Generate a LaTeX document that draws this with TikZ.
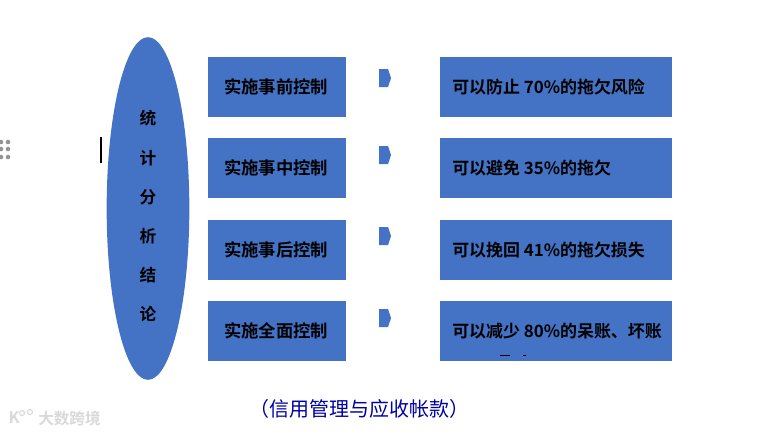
\documentclass[tikz,border=0pt]{standalone}
\usepackage{fontspec}
\usetikzlibrary{shapes.geometric}
\newfontfamily\cjk{Noto Sans CJK SC}[BoldFont={Noto Sans CJK SC Bold}]
\definecolor{fillblue}{HTML}{4472C4}
\tikzset{
 boxs/.style={fill=fillblue,draw=none,inner sep=0pt,minimum height=45pt,anchor=north west},
 leftbox/.style={boxs,minimum width=103.5pt},
 rightbox/.style={boxs,minimum width=174pt},
 boxtext/.style={font=\cjk\bfseries\fontsize{13}{15}\selectfont,text=black,inner sep=0pt,anchor=west},
 rtext/.style={boxtext,font=\cjk\bfseries\fontsize{12.7}{15}\selectfont},
 ovaltext/.style={font=\cjk\bfseries\fontsize{12.5}{15}\selectfont,text=black,inner sep=0pt},
 griddot/.style={circle,fill=gray!85,inner sep=0pt,minimum size=3.4pt},
}
\begin{document}
\begin{tikzpicture}[x=0.75pt,y=-0.75pt]
\useasboundingbox (0,0) rectangle (766,433);
\fill[white] (0,0) rectangle (766,433);
% left handle
\foreach \yy in {142,149,157}{\foreach \xx in {1,8}{\node[griddot] at (\xx,\yy) {};}}
\draw[line width=1.1pt,black] (101,137) -- (101,163);
% oval
\node[ellipse,fill=fillblue,minimum width=62pt,minimum height=257pt,inner sep=0pt] (oval) at (148,208.5) {};
\foreach \t/\yy in {统/118,计/158,分/197,析/236,结/275,论/314}{\node[ovaltext] at (148,\yy) {\t};}
% rows
\foreach \n/\yy/\l/\r/\ay in {
 a/57/实施事前控制/{可以防止 70\%的拖欠风险}/78,
 b/138/实施事中控制/{可以避免 35\%的拖欠}/155,
 c/220/实施事后控制/{可以挽回 41\%的拖欠损失}/236,
 d/301/实施全面控制/{可以减少 80\%的呆账、坏账}/318}{
  \node[leftbox] (l\n) at (208,\yy) {};
  \node[rightbox] (r\n) at (440,\yy) {};
  \node[boxtext] at (224,\yy+30) {\l};
  \node[rtext] at (452,\yy+30) {\r};
  \fill[fillblue] (379,\ay-9) -- (388,\ay-9) -- (391,\ay) -- (388,\ay+9) -- (379,\ay+9) -- cycle;
}
% clipped second line remnants
\fill[black] (500,354.5) rectangle (510,355.5);
\fill[black] (523,354.5) rectangle (526,355.5);
% caption
\node[font=\cjk\fontsize{15}{18}\selectfont,text=blue!65!black,inner sep=0pt] (cap) at (359,409) {（信用管理与应收帐款）};
% watermark
\node[font=\cjk\bfseries\fontsize{11.7}{13}\selectfont,text=gray!30,inner sep=0pt,anchor=west] (wm) at (38,418.5) {大数跨境};
\node[font=\cjk\bfseries\fontsize{12}{12}\selectfont,text=gray!30,inner sep=0pt] (wk) at (14,418) {K};
\draw[gray!30,line width=0.8pt] (22,413) circle (2.5) (30,412) circle (2.5);
\end{tikzpicture}
\end{document}
